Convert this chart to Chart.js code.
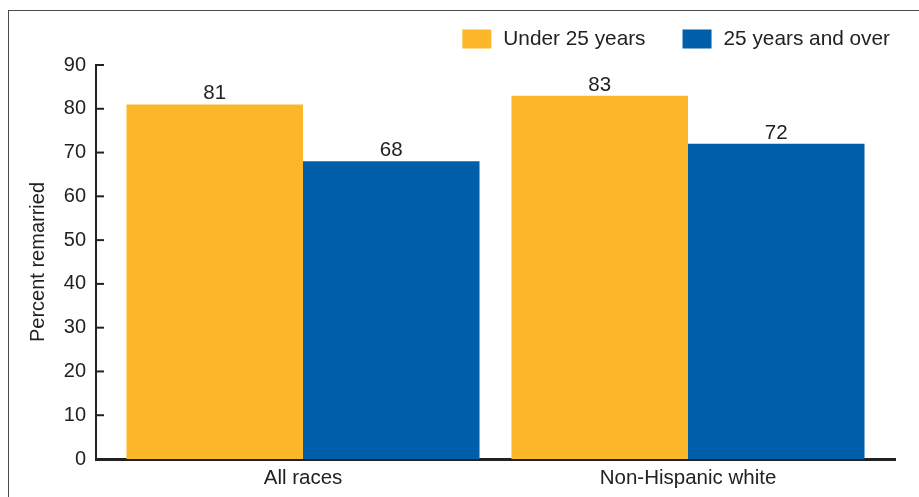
<!doctype html>
<html lang="en">
<head>
    <meta charset="utf-8">
    <title>Percent remarried</title>
    <style>
        body { margin: 0; background: #fff; }
        #wrap { position: relative; width: 919px; height: 497px; }
        #frame { position: absolute; left: 8px; top: 10px; right: 0; bottom: 0;
                 border-top: 1.5px solid #4a4a4a; border-left: 1.5px solid #4a4a4a; }
        #wrap canvas { position: absolute; left: 0; top: 0; }
    </style>
</head>
<script src="https://cdn.jsdelivr.net/npm/chart.js"></script>
<body>
<div id="wrap">
    <div id="frame"></div>
    <canvas id="chart" width="919" height="497"></canvas>
</div>
<script>
    // DATA
    const categories = ['All races', 'Non-Hispanic white']
    const seriesNames = ['Under 25 years', '25 years and over']
    const under25 = [81, 83]
    const over25 = [68, 72]
    const yTicks = [0, 10, 20, 30, 40, 50, 60, 70, 80, 90]

    const colors = ['#FBB727', '#005FAA']
    const textColor = '#222222'
    const font = "'Liberation Sans', Arial, sans-serif"

    function points(values) {
        return values.map((v, i) => ({x: i, y: v}))
    }

    // inward y ticks, value labels and legend
    const extras = {
        id: 'extras',
        afterDatasetsDraw(chart) {
            const ctx = chart.ctx
            const y = chart.scales.y
            ctx.save()
            ctx.strokeStyle = textColor
            ctx.lineWidth = 2
            yTicks.forEach(t => {
                const py = y.getPixelForValue(t)
                ctx.beginPath()
                ctx.moveTo(y.right, py)
                ctx.lineTo(y.right + 8, py)
                ctx.stroke()
            })

            // value labels
            ctx.fillStyle = textColor
            ctx.font = '20.5px ' + font
            ctx.textAlign = 'center'
            ctx.textBaseline = 'alphabetic'
            chart.data.datasets.forEach((ds, di) => {
                chart.getDatasetMeta(di).data.forEach((bar, i) => {
                    ctx.fillText(ds.data[i].y, bar.x, bar.y - 5)
                })
            })

            // legend, right aligned
            ctx.font = '20.8px ' + font
            ctx.textAlign = 'left'
            ctx.textBaseline = 'middle'
            const boxW = 29, boxH = 19, gap = 12, itemGap = 37
            const widths = chart.data.datasets.map(ds => boxW + gap + ctx.measureText(ds.label).width)
            let x = chart.chartArea.right - 5 - widths.reduce((a, b) => a + b, 0) - itemGap * (widths.length - 1)
            const cy = 39
            chart.data.datasets.forEach((ds, di) => {
                ctx.fillStyle = ds.backgroundColor
                ctx.fillRect(x, cy - boxH / 2, boxW, boxH)
                ctx.fillStyle = textColor
                ctx.fillText(ds.label, x + boxW + gap, cy)
                x += widths[di] + itemGap
            })
            ctx.restore()
        }
    }

    new Chart(document.getElementById('chart').getContext('2d'), {
        type: 'bar',
        plugins: [extras],
        data: {
            datasets: [{
                label: seriesNames[0],
                data: points(under25),
                backgroundColor: colors[0],
                categoryPercentage: 0.917,
                barPercentage: 1
            }, {
                label: seriesNames[1],
                data: points(over25),
                backgroundColor: colors[1],
                categoryPercentage: 0.917,
                barPercentage: 1
            }]
        },
        options: {
            responsive: false,
            animation: false,
            layout: {padding: {top: 65, right: 24, left: 0, bottom: 0}},
            plugins: {
                legend: {display: false},
                tooltip: {enabled: false}
            },
            scales: {
                x: {
                    type: 'linear',
                    offset: false,
                    min: -0.5377,
                    max: 1.5377,
                    afterBuildTicks: scale => { scale.ticks = categories.map((c, i) => ({value: i})) },
                    afterFit: scale => { scale.height = 38 },
                    grid: {display: false, drawTicks: false},
                    border: {display: true, color: textColor, width: 3},
                    ticks: {
                        padding: 7,
                        color: textColor,
                        font: {family: font, size: 20.5},
                        callback: v => categories[v]
                    }
                },
                y: {
                    min: 0,
                    max: 90,
                    afterBuildTicks: scale => { scale.ticks = yTicks.map(v => ({value: v})) },
                    afterFit: scale => { scale.width = 96 },
                    grid: {display: false, drawTicks: false},
                    border: {display: true, color: textColor, width: 2},
                    ticks: {
                        padding: 10,
                        color: textColor,
                        font: {family: font, size: 20}
                    },
                    title: {
                        display: true,
                        text: 'Percent remarried',
                        color: textColor,
                        font: {family: font, size: 20},
                        padding: {top: 26, bottom: 0}
                    }
                }
            }
        }
    })
</script>
</body>
</html>
